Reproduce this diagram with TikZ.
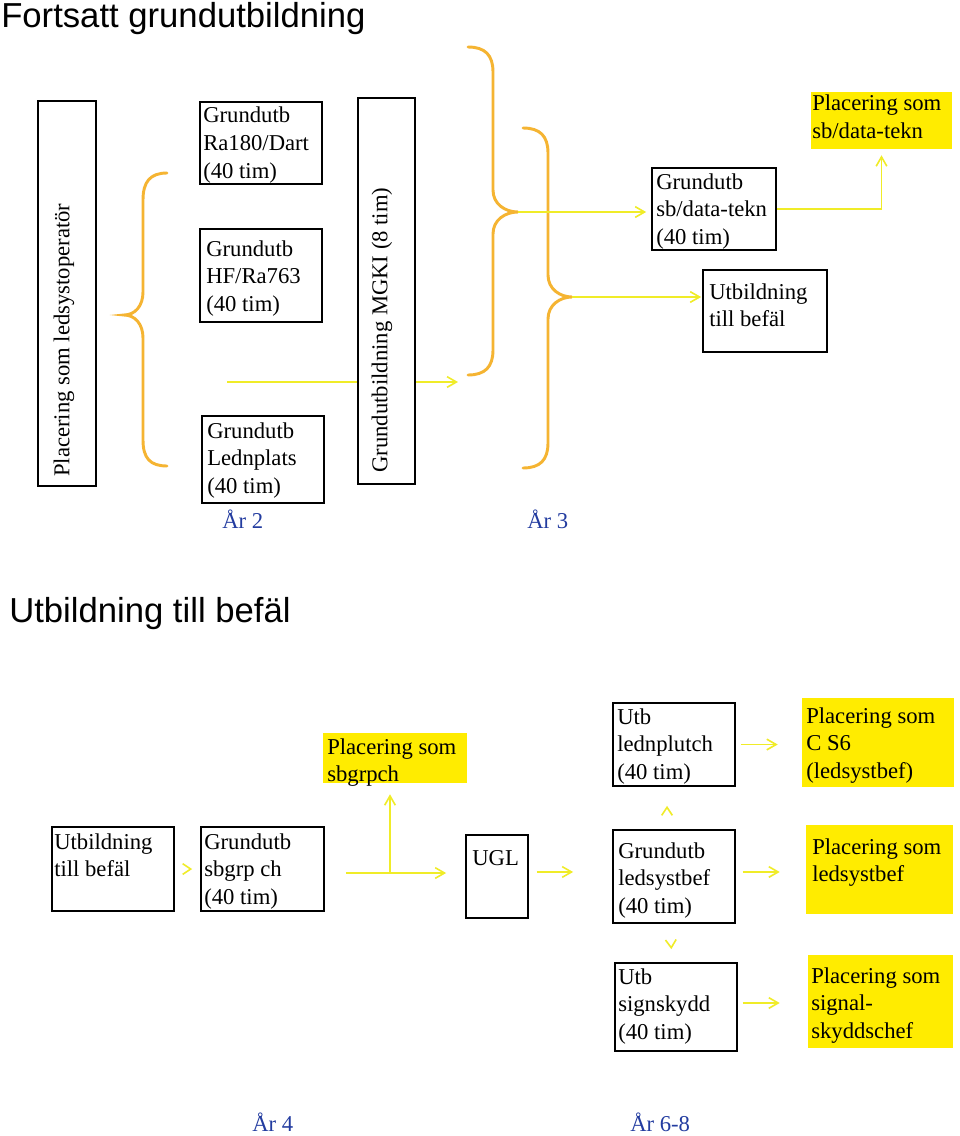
\documentclass[tikz,border=0pt]{standalone}
\usepackage{fontspec}
\setmainfont{Liberation Serif}
\newfontfamily\titlefont{Liberation Sans}
\usetikzlibrary{arrows.meta,fit}
\definecolor{bracec}{RGB}{245,180,50}
\definecolor{linec}{RGB}{240,236,40}
\definecolor{placec}{RGB}{255,236,0}
\definecolor{yearc}{RGB}{35,60,160}
\begin{document}
\begin{tikzpicture}[x=0.75pt,y=-0.75pt,
  box/.style={draw=black, line width=1.3pt, fill=white, inner sep=0pt},
  plac/.style={fill=placec, draw=none, inner sep=0pt},
  txt/.style={anchor=north west, inner sep=0pt, align=left, font=\fontsize{17}{20.8}\selectfont},
  vtxt/.style={rotate=90, anchor=west, inner sep=0pt, font=\fontsize{17}{20.8}\selectfont},
  brace/.style={draw=bracec, line width=2.2pt, line cap=round},
  arr/.style={draw=linec, line width=1.2pt, -{Straight Barb[length=7pt,width=8pt]}},
  chev/.style={draw=linec, line width=1.2pt, dash pattern=on 0pt off 400pt, -{Straight Barb[length=6pt,width=8pt]}},
  year/.style={text=yearc, inner sep=0pt, anchor=base west, font=\fontsize{17}{20}\selectfont},
  title/.style={inner sep=0pt, anchor=base west, font=\titlefont\fontsize{26}{30}\selectfont},
]
\fill[white] (0,0) rectangle (960,1136);
\useasboundingbox (0,0) rectangle (960,1136);

% ---------- Titles ----------
\node[title] (t1) at (1,27) {Fortsatt grundutbildning};
\node[title] (t2) at (9,622) {Utbildning till befäl};

% ---------- Top section ----------
\node[box, fit={(38,101) (96,486)}] (pso) {};
\node[vtxt] (pso-t) at (64,477) {Placering som ledsystoperatör};

\node[box, fit={(200,102) (322,184)}] (ra) {};
\node[txt] (ra-t) at (203,107) {Grundutb\\Ra180/Dart\\(40 tim)};
\node[box, fit={(200,229) (322,322)}] (hf) {};
\node[txt] (hf-t) at (206,240) {Grundutb\\HF/Ra763\\(40 tim)};
\node[box, fit={(202,416) (324,503)}] (led) {};
\node[txt] (led-t) at (207,422) {Grundutb\\Lednplats\\(40 tim)};

\coordinate (l1s) at (227,382);
\coordinate (l1e) at (458,382);
\draw[arr] (l1s) -- (l1e);

\node[box, fit={(358,98) (415,484)}] (mgki) {};
\node[vtxt] (mgki-t) at (382,473) {Grundutbildning MGKI (8 tim)};

% braces
\draw[brace] (167,173) .. controls (150,173) and (143,182) .. (143,200) -- (143,292)
  .. controls (143,306) and (135,315) .. (124,315)
  .. controls (135,315) and (143,324) .. (143,338) -- (143,440)
  .. controls (143,458) and (150,466) .. (167,466);
\draw[brace] (468,47) .. controls (485,47) and (493,55) .. (493,72) -- (493,190)
  .. controls (493,204) and (505,212) .. (518,212)
  .. controls (505,212) and (493,220) .. (493,234) -- (493,350)
  .. controls (493,367) and (485,375) .. (468,375);
\draw[brace] (523,128) .. controls (540,128) and (548,136) .. (548,153) -- (548,275)
  .. controls (548,289) and (560,297) .. (572,297)
  .. controls (560,297) and (548,305) .. (548,319) -- (548,443)
  .. controls (548,460) and (540,468) .. (523,468);
\coordinate (b2tip) at (518,212);
\coordinate (b3tip) at (572,297);

\node[box, fit={(652,168) (776,250)}] (sbd) {};
\node[txt] (sbd-t) at (656,173) {Grundutb\\sb/data-tekn\\(40 tim)};
\node[box, fit={(703,270) (827,352)}] (bef1) {};
\node[txt] (bef1-t) at (709,283) {Utbildning\\till befäl};
\node[plac, fit={(811,92) (952,149)}] (p1) {};
\node[txt] (p1-t) at (812,95) {Placering som\\sb/data-tekn};

\draw[arr, shorten >=3.75pt] (b2tip) -- (b2tip -| sbd.west);
\draw[arr, shorten >=4.5pt] (sbd.east) -| (p1.south);
\draw[arr, shorten >=0.75pt] (b3tip) -- (b3tip -| bef1.west);

\node[year] (y2) at (222,528) {År 2};
\node[year] (y3) at (527,528) {År 3};

% ---------- Bottom section ----------
\node[box, fit={(52,827) (174,911)}] (utb2) {};
\node[txt] (utb2-t) at (54,833) {Utbildning\\till befäl};
\node[box, fit={(201,827) (324,911)}] (sbgrp) {};
\node[txt] (sbgrp-t) at (204,833) {Grundutb\\sbgrp ch\\(40 tim)};
\node[plac, fit={(323,733) (467,783)}] (p2) {};
\node[txt] (p2-t) at (327,738) {Placering som\\sbgrpch};
\node[box, fit={(466,835) (528,918)}] (ugl) {};
\node[txt] (ugl-t) at (472,850) {UGL};

\draw[chev, shorten >=6pt] (utb2.east) -- (sbgrp.west);
\coordinate (j) at (390,873);
\draw[arr, shorten <=15.75pt, shorten >=14.25pt] (sbgrp.east |- j) -- (ugl.west |- j);
\draw[arr, shorten >=8.25pt] (j) -- (j |- p2.south);

\node[box, fit={(613,703) (735,786)}] (lednp) {};
\node[txt] (lednp-t) at (617,708) {Utb\\lednplutch\\(40 tim)};
\node[box, fit={(613,830) (735,923)}] (ledsys) {};
\node[txt] (ledsys-t) at (618,842) {Grundutb\\ledsystbef\\(40 tim)};
\node[box, fit={(615,963) (737,1051)}] (signsk) {};
\node[txt] (signsk-t) at (618,968) {Utb\\signskydd\\(40 tim)};

\node[plac, fit={(802,698) (954,787)}] (pcs6) {};
\node[txt] (pcs6-t) at (806,707) {Placering som\\C S6\\(ledsystbef)};
\node[plac, fit={(806,825) (953,914)}] (pled) {};
\node[txt] (pled-t) at (812,838) {Placering som\\ledsystbef};
\node[plac, fit={(808,955) (953,1048)}] (psig) {};
\node[txt] (psig-t) at (811,967) {Placering som\\signal-\\skyddschef};

\draw[arr, shorten <=6pt, shorten >=29.25pt] ([yshift=3.4pt]ugl.east) -- ([yshift=3.4pt]ugl.east -| ledsys.west);
\draw[arr, shorten <=3.75pt, shorten >=18pt] (lednp.east) -- (lednp.east -| pcs6.west);
\draw[arr, shorten <=5.25pt, shorten >=19.5pt] ([yshift=3.4pt]ledsys.east) -- ([yshift=3.4pt]ledsys.east -| pled.west);
\draw[arr, shorten <=3.75pt, shorten >=21pt] ([yshift=3pt]signsk.east) -- ([yshift=3pt]signsk.east -| psig.west);

\draw[chev, shorten >=14.25pt] ([xshift=-5.25pt]ledsys.north) -- ([xshift=-5.25pt]lednp.south);
\draw[chev, shorten >=9.75pt] ([xshift=-3pt]ledsys.south) -- ([xshift=-3pt]signsk.north);

\node[year] (y4) at (252,1131) {År 4};
\node[year] (y68) at (630,1131) {År 6-8};
\end{tikzpicture}
\end{document}
